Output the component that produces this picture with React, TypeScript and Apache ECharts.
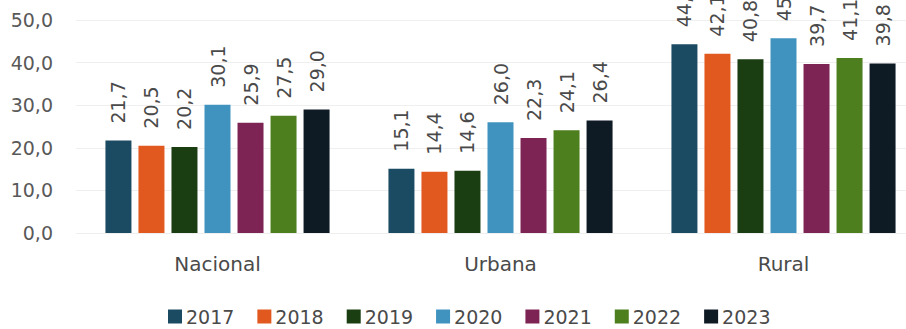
import React, { useEffect, useRef } from "react";
import * as echarts from "echarts";

const categories = ["Nacional", "Urbana", "Rural"];
const years = ["2017", "2018", "2019", "2020", "2021", "2022", "2023"];
const v2017 = [21.7, 15.1, 44.3];
const v2018 = [20.5, 14.4, 42.1];
const v2019 = [20.2, 14.6, 40.8];
const v2020 = [30.1, 26.0, 45.7];
const v2021 = [25.9, 22.3, 39.7];
const v2022 = [27.5, 24.1, 41.1];
const v2023 = [29.0, 26.4, 39.8];
const seriesValues = [v2017, v2018, v2019, v2020, v2021, v2022, v2023];
const colors = ["#1b4a63", "#e2591f", "#1a3d12", "#3f93be", "#7e2454", "#4d7f1e", "#0e1a24"];

const fmt = (v: number) => v.toFixed(1).replace(".", ",");
const FONT = "DejaVu Sans";

export default function App() {
  const ref = useRef<HTMLDivElement>(null);
  useEffect(() => {
    if (!ref.current) return;
    const chart = echarts.init(ref.current, undefined, { renderer: "svg" });
    chart.setOption({
      animation: false,
      backgroundColor: "#ffffff",
      textStyle: { fontFamily: FONT },
      legend: {
        left: 163,
        top: 302,
        itemWidth: 14,
        itemHeight: 14,
        itemGap: 23,
        icon: "rect",
        textStyle: { fontFamily: FONT, fontSize: 19, color: "#4a4a4a", padding: [0, 0, 0, -1] },
        data: years,
      },
      grid: { left: 76, width: 849, top: 20, height: 213 },
      xAxis: {
        type: "category",
        data: categories,
        axisLine: { show: false },
        axisTick: { show: false },
        axisLabel: { fontFamily: FONT, fontSize: 20, color: "#4a4a4a", margin: 21 },
      },
      yAxis: {
        type: "value",
        min: 0,
        max: 50,
        interval: 10,
        axisLine: { show: false },
        axisTick: { show: false },
        splitLine: { lineStyle: { color: "#efefef", width: 1 } },
        axisLabel: {
          fontFamily: FONT,
          fontSize: 19,
          color: "#595959",
          margin: 23,
          formatter: (v: number) => fmt(v),
        },
      },
      series: years.map((y, i) => ({
        name: y,
        type: "bar",
        data: seriesValues[i],
        barWidth: 26,
        barGap: "27%",
        itemStyle: { color: colors[i] },
        label: {
          show: true,
          position: "top",
          rotate: 90,
          align: "left",
          verticalAlign: "middle",
          distance: 17,
          fontFamily: FONT,
          fontSize: 19,
          color: "#4a4a4a",
          formatter: (p: any) => fmt(p.value),
        },
      })),
    });
    return () => chart.dispose();
  }, []);
  return (
    <div
      ref={ref}
      style={{ position: "fixed", left: 0, top: 0, width: 940, height: 329, background: "#fff" }}
    />
  );
}
